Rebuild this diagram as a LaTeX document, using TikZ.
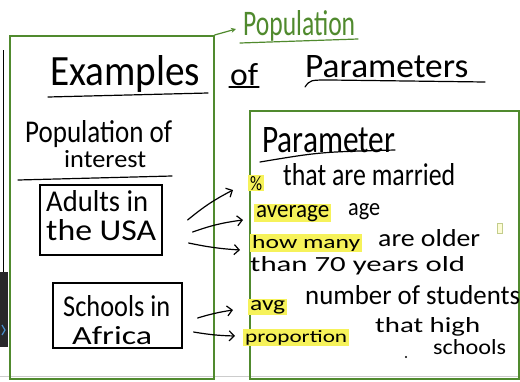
\documentclass[tikz,border=0pt]{standalone}
\usepackage{graphicx}
\usepackage{fontspec}
\newfontfamily\hand{Carlito}
\usetikzlibrary{arrows.meta,calc}
\definecolor{pgreen}{RGB}{80,138,46}
\definecolor{hly}{RGB}{246,242,90}
\definecolor{stripd}{RGB}{40,40,42}
\definecolor{chev}{RGB}{70,140,200}
\definecolor{marker}{RGB}{195,205,140}
\newcommand\hw[3]{\resizebox{#1pt}{#2pt}{\hand #3}}
\begin{document}
\begin{tikzpicture}[x=1pt,y=-1pt,
  txt/.style={inner sep=0pt, anchor=base west},
  hl/.style={fill=hly, inner xsep=2pt, inner ysep=1.2pt, anchor=base west},
  ink/.style={line width=1.2pt, line cap=round, line join=round},
  arr/.style={ink, -{Straight Barb[length=5pt,width=10pt]}},
  gframe/.style={draw=pgreen, line width=1.6pt, inner sep=0pt, anchor=north west},
  hbox/.style={draw, line width=1.2pt, inner sep=0pt}]
\useasboundingbox (0,0) rectangle (520,381);
\fill[white] (0,0) rectangle (520,381);
% left screen strip
\draw[line width=1pt] (3,50) -- (3,272);
\fill[stripd] (0,272) rectangle (8,347);
\draw[chev, line width=1.2pt] (2,325) -- (5,330) -- (2,335);
\draw[black!20, line width=1pt] (0,376) -- (520,376);
% green frames
\node[gframe, minimum width=204pt, minimum height=343pt] (popframe) at (9,35) {};
\node[gframe, minimum width=269pt, minimum height=268pt] (parframe) at (249,110) {};
% green label
\node[txt, text=pgreen] (pop) at (243,35) {\hw{112}{25}{Population}};
\draw[pgreen, ink] (240,43) -- (358,39);
\coordinate (popend) at (236,29);
\draw[pgreen, ink, -{Stealth[length=5pt,width=5pt]}] (popframe.north east) -- (popend);
% title
\node[txt] (ex) at (50,85) {\hw{150}{30}{Examples}};
\draw[ink] (48,97) -- (208,93);
\node[txt] (of) at (230,85) {\hw{28}{22}{of}};
\draw[ink] (229,87) -- (259,87);
\node[txt] (params) at (305,77) {\hw{163}{22}{Parameters}};
\draw[ink] (305,87) .. controls (310,80) .. (330,80) -- (485,82);
% left column
\node[txt] (pi1) at (25,142) {\hw{147}{22}{Population of}};
\node[txt] (pi2) at (64,167) {\hw{82}{17}{interest}};
\draw[ink] (18,180) -- (172,176);
\node[hbox, minimum width=122pt, minimum height=70pt] (usabox) at (101,220) {};
\node[txt] (usa1) at (46,211) {\hw{102}{21}{Adults in}};
\node[txt] (usa2) at (46,240) {\hw{110}{21}{the USA}};
\node[hbox, minimum width=129pt, minimum height=65pt] (schbox) at (117.5,315.5) {};
\node[txt] (sch1) at (63,316) {\hw{107}{21}{Schools in}};
\node[txt] (sch2) at (72,344) {\hw{80}{18}{Africa}};
% right column
\node[txt] (param) at (262,152) {\hw{133}{25}{Parameter}};
\draw[ink] (260,162) .. controls (320,152) .. (395,150);
\node[hl] (pct) at (248,190) {\hw{12}{14}{\%}};
\node[txt] (married) at (283,185) {\hw{172}{22}{that are married}};
\node[hl] (avgw) at (254,217) {\hw{73}{12}{average}};
\node[txt] (age) at (348,215) {\hw{32}{12}{age}};
\node[hl] (howmany) at (250,248) {\hw{108}{13}{how many}};
\node[txt] (older) at (378,246) {\hw{102}{17}{are older}};
\node[txt] (than) at (250,271) {\hw{215}{15}{than 70 years old}};
\node[hl] (avgs) at (248,310) {\hw{35}{10}{avg}};
\node[txt] (students) at (305,304) {\hw{215}{19}{number of students}};
\node[hl] (prop) at (243,342) {\hw{102}{12}{proportion}};
\node[txt] (high) at (375,332) {\hw{105}{15}{that high}};
\node[txt] (schools) at (433,354) {\hw{73}{15}{schools}};
\fill (406,357) circle (1.2pt);
\draw[marker, fill=hly!25, line width=0.8pt] (497,223) rectangle (502,233);
% arrows
\draw[arr] ($(usabox.east)+(25,0)$) to[bend left=6] ($(pct.base west)+(-15,0)$);
\draw[arr] ($(usabox.east)+(30,12)$) to[bend left=6] ($(avgw.base west)+(-11,3)$);
\draw[arr] ($(usabox.east)+(26,23)$) to[bend right=4] ($(howmany.base west)+(-10,2)$);
\draw[arr] ($(schbox.east)+(15,2.5)$) to[bend left=4] ($(avgs.base west)+(-15,0)$);
\draw[arr] ($(schbox.east)+(11,16.5)$) to[bend right=4] ($(prop.base west)+(-8,-6)$);
\end{tikzpicture}
\end{document}
